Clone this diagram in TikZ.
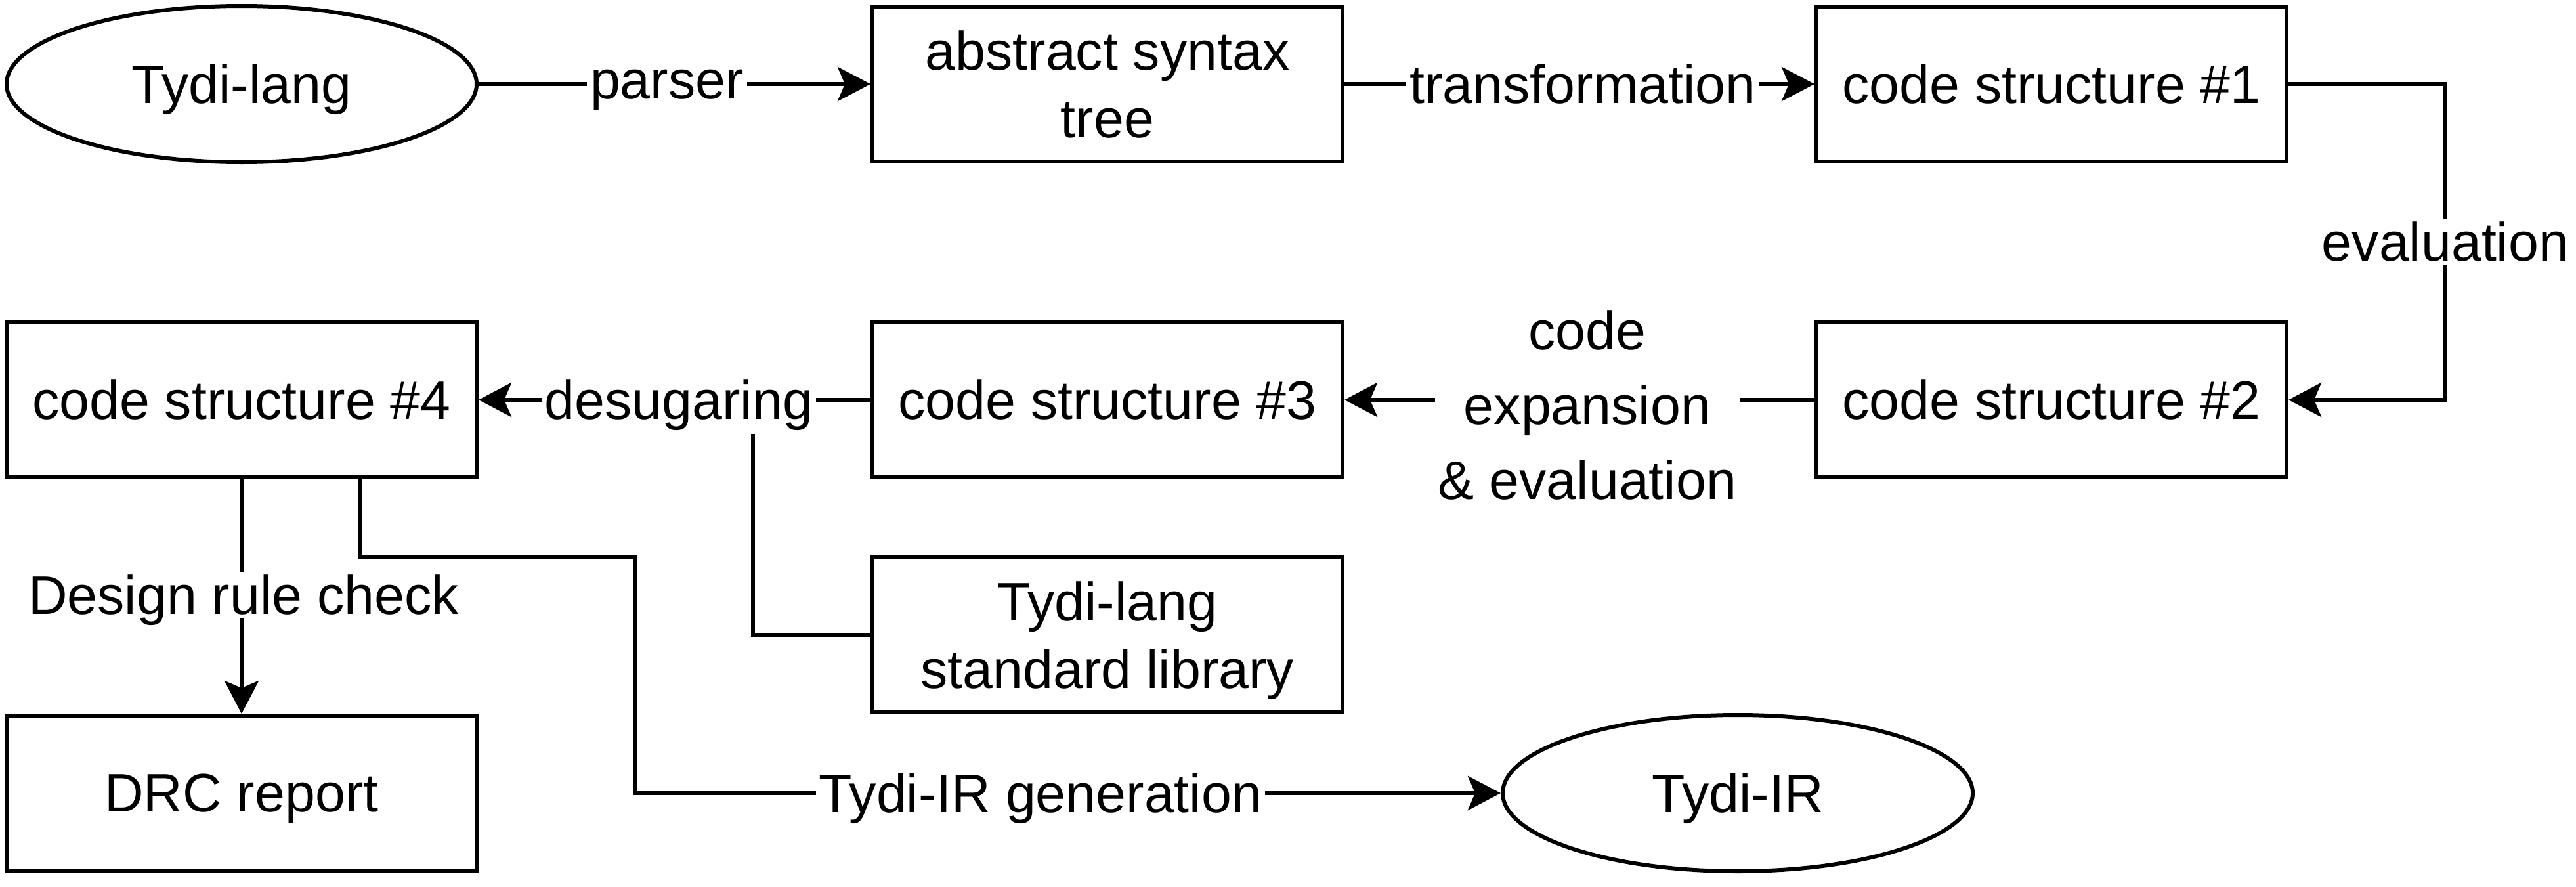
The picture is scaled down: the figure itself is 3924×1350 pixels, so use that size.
\documentclass[tikz,border=0pt]{standalone}
\usepackage{fontspec}
\setmainfont{Liberation Sans}
\usetikzlibrary{arrows.meta,shapes.geometric,calc}
\newcommand\dgfont{\fontsize{82.5}{103}\selectfont}
\newcommand\dglblfont{\fontsize{82.5}{114}\selectfont}
\begin{document}
\begin{tikzpicture}[x=1pt,y=-1pt,line width=6pt,
  box/.style={draw,rectangle,minimum width=716pt,minimum height=236pt,inner sep=0pt,align=center,font=\dgfont,text depth=0pt},
  ell/.style={draw,ellipse,minimum width=716pt,minimum height=238pt,inner sep=0pt,font=\dgfont,text depth=0pt},
  lbl/.style={fill=white,inner sep=5pt,align=center,font=\dgfont,text depth=0pt},
  conn/.style={-{Stealth[length=50pt,width=52pt,inset=11pt]},line join=miter}]
\useasboundingbox (0,0) rectangle (3924,1350);
% nodes
\node[ell] (tl)  at (368,128)   {Tydi-lang};
\node[box] (ast) at (1687,128)  {abstract syntax\\tree};
\node[box] (cs1) at (3125,128)  {code structure \#1};
\node[box] (cs2) at (3125,609)  {code structure \#2};
\node[box] (cs3) at (1687,609)  {code structure \#3};
\node[box] (cs4) at (368,609)   {code structure \#4};
\node[box] (std) at (1687,967)  {Tydi-lang\\standard library};
\node[box] (drc) at (368,1208)  {DRC report};
\node[ell] (ir)  at (2647,1208) {Tydi-IR};
% helper coordinates
\coordinate (ev) at (3725,0);
\coordinate (g1) at (548,848);
\coordinate (g2) at (967,848);
\coordinate (dsb) at (1147,661);
% connectors
\draw[conn] (tl.east) -- (ast.west);
\draw[conn] (ast.east) -- (cs1.west);
\draw[conn] (cs1.east) -- (cs1.east -| ev) -- (cs2.east -| ev) -- (cs2.east);
\draw[conn] (cs2.west) -- (cs3.east);
\draw[conn] (cs3.west) -- (cs4.east);
\draw (std.west) -| (dsb);
\draw[conn] (cs4.south) -- (drc.north);
\draw[conn] (cs4.south -| g1) -- (g1) -- (g2) -- (g2 |- ir.west) -- (ir.west);
% labels
\node[lbl] (lparse) at (1016,128) {parser};
\node[lbl] (ltrans) at (2411,128) {transformation};
\node[lbl] (leval)  at (3725,368) {evaluation};
\node[lbl,font=\dglblfont] (lexp) at (2418,617) {code\\expansion\\\& evaluation};
\node[lbl] (ldes)   at (1034,609) {desugaring};
\node[lbl] (ldrc)   at (371,906)  {Design rule check};
\node[lbl] (lgen)   at (1585,1208) {Tydi-IR generation};
\end{tikzpicture}
\end{document}
